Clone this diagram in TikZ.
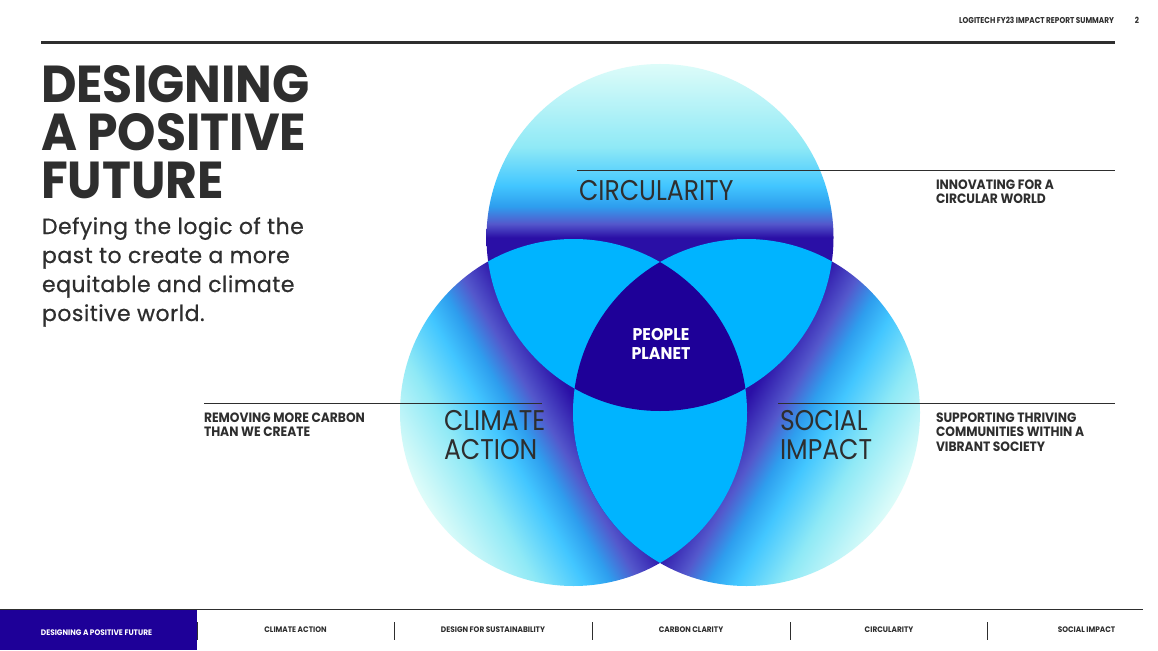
\documentclass[tikz,border=0pt]{standalone}
\usepackage{fontspec}
\setmainfont{Poppins}[FakeStretch=0.86]
\newfontfamily\titlefam{Poppins}[FakeStretch=0.94]
\newfontfamily\leadfam{Poppins}[LetterSpace=2.2, FakeBold=0.6]
\newfontfamily\ringfam{Poppins}[FakeStretch=0.88]
\newfontfamily\tagfam{Poppins}[FakeStretch=0.91]
\newfontfamily\corefam{Poppins}[FakeStretch=0.93]
\newfontfamily\navfam{Poppins}[FakeStretch=0.92]
\usetikzlibrary{positioning}

\definecolor{inkgray}{HTML}{2E2E2E}
\definecolor{deepindigo}{HTML}{1E0098}
\definecolor{lensblue}{HTML}{00B4FF}
\definecolor{vpale}{HTML}{DDFCF9}
\definecolor{vaqua}{HTML}{8FE9F6}
\definecolor{vbright}{HTML}{42C6FF}
\definecolor{vsky}{HTML}{2E9EEE}
\definecolor{vviolet}{HTML}{5458CC}
\definecolor{vdark}{HTML}{2A0FA6}

% gradients, pale rim -> dark centre line
\pgfdeclareverticalshading{venntop}{100bp}{%
  color(0bp)=(vdark); color(50bp)=(vdark); color(52bp)=(vviolet);
  color(54.5bp)=(vsky); color(57.5bp)=(vbright); color(63bp)=(vaqua);
  color(75bp)=(vpale); color(100bp)=(vpale)}
\pgfdeclareverticalshading{vennside}{100bp}{%
  color(0bp)=(vdark); color(49bp)=(vdark); color(54bp)=(vviolet);
  color(57.5bp)=(vsky); color(61bp)=(vbright); color(67bp)=(vaqua);
  color(75bp)=(vpale); color(100bp)=(vpale)}

\newcommand\fnthead{\bfseries\fontsize{8.5}{10}\selectfont}
\newcommand\fnttitle{\titlefam\bfseries\fontsize{52}{48}\selectfont}
\newcommand\fntlead{\leadfam\fontsize{22}{29}\selectfont}
\newcommand\fntring{\ringfam\fontsize{28.5}{28.5}\selectfont}
\newcommand\fnttag{\tagfam\bfseries\fontsize{13.5}{14.4}\selectfont}
\newcommand\fntcore{\corefam\bfseries\fontsize{17}{19}\selectfont}
\newcommand\fntnav{\navfam\bfseries\fontsize{8}{9}\selectfont}
\def\vennr{173.5pt}

\begin{document}
\begin{tikzpicture}[x=1pt, y=-1pt,
    txt/.style={inner sep=0pt, outer sep=0pt, text=inkgray},
    tag/.style={txt, anchor=base west, align=left, font=\fnttag},
    ringlabel/.style={txt, anchor=base west, align=left, font=\fntring},
    navitem/.style={txt, font=\fntnav},
    hairline/.style={draw=inkgray, line width=0.9pt},
    lens/.style={fill=lensblue},
    core/.style={fill=deepindigo}
]
    \useasboundingbox (0,0) rectangle (1158,650);
    \fill[white] (0,0) rectangle (1158,650);

    % header
    \node[txt, anchor=base east, font=\fnthead] (hdr) at (1114,24) {LOGITECH FY23 IMPACT REPORT SUMMARY};
    \node[txt, anchor=base east, font=\fnthead] (pagenum) at (1139,24) {2};
    \coordinate (ruleL) at (41,42.5);
    \coordinate (ruleR) at (1115,42.5);
    \draw[inkgray, line width=3pt] (ruleL) -- (ruleR);

    % headline (base = last line)
    \node[txt, anchor=base west, align=left, font=\fnttitle] (headline) at (41,198) {DESIGNING\\A POSITIVE\\FUTURE};
    \node[txt, anchor=base west, align=left, font=\fntlead] (lead) at (42,321) {Defying the logic of the\\past to create a more\\equitable and climate\\positive world.};

    % the three rings
    \coordinate (ctop) at (660,237.5);
    \coordinate (cbl) at (573.5,412.5);
    \coordinate (cbr) at (746.5,412.5);
    \shade[shading=venntop, shading angle=0] (ctop) circle[radius=\vennr];
    \shade[shading=vennside, shading angle=120] (cbl) circle[radius=\vennr];
    \shade[shading=vennside, shading angle=-120] (cbr) circle[radius=\vennr];

    % overlaps
    \begin{scope}
        \clip (ctop) circle[radius=\vennr];
        \fill[lens] (cbl) circle[radius=\vennr];
        \fill[lens] (cbr) circle[radius=\vennr];
    \end{scope}
    \begin{scope}
        \clip (cbl) circle[radius=\vennr];
        \fill[lens] (cbr) circle[radius=\vennr];
    \end{scope}
    \begin{scope}
        \clip (ctop) circle[radius=\vennr];
        \clip (cbl) circle[radius=\vennr];
        \fill[core] (cbr) circle[radius=\vennr];
    \end{scope}

    % leader lines
    \coordinate (circL) at (577,170);
    \coordinate (circR) at (1115,170);
    \coordinate (climL) at (204,403.5);
    \coordinate (climR) at (542,403.5);
    \coordinate (socL) at (778,403.5);
    \coordinate (socR) at (1115,403.5);
    \draw[hairline] (circL) -- (circR);
    \draw[hairline] (climL) -- (climR);
    \draw[hairline] (socL) -- (socR);

    % ring labels
    \node[ringlabel] (circlab) at (579,200) {CIRCULARITY};
    \node[ringlabel] (climlab) at (444,459) {CLIMATE\\ACTION};
    \node[ringlabel] (soclab) at (780,459) {SOCIAL\\IMPACT};
    \node[txt, text=white, align=center, font=\fntcore, anchor=base] (corelab) at (661,359) {PEOPLE\\PLANET};

    % side tags
    \node[tag] (circtag) at (936,203.4) {INNOVATING FOR A\\CIRCULAR WORLD};
    \node[tag] (climtag) at (204,436.7) {REMOVING MORE CARBON\\THAN WE CREATE};
    \node[tag] (soctag) at (936,451) {SUPPORTING THRIVING\\COMMUNITIES WITHIN A\\VIBRANT SOCIETY};

    % footer navigation
    \coordinate (navL) at (0,609.5);
    \coordinate (navR) at (1143,609.5);
    \fill[deepindigo] (0,610.2) rectangle (197,650);
    \draw[inkgray, line width=1.2pt] (navL) -- (navR);
    \node[navitem, text=white] (nav0) at (96.5,633) {DESIGNING A POSITIVE FUTURE};
    \node[navitem] (nav1) at (295.5,630) {CLIMATE ACTION};
    \node[navitem] (nav2) at (493,630) {DESIGN FOR SUSTAINABILITY};
    \node[navitem] (nav3) at (691,630) {CARBON CLARITY};
    \node[navitem] (nav4) at (889,630) {CIRCULARITY};
    \node[navitem] (nav5) at (1086.5,630) {SOCIAL IMPACT};
    \foreach \sx in {197,394.5,592,790,987.5}
        \draw[inkgray, line width=1pt] (\sx,622) -- (\sx,639.5);
\end{tikzpicture}
\end{document}
